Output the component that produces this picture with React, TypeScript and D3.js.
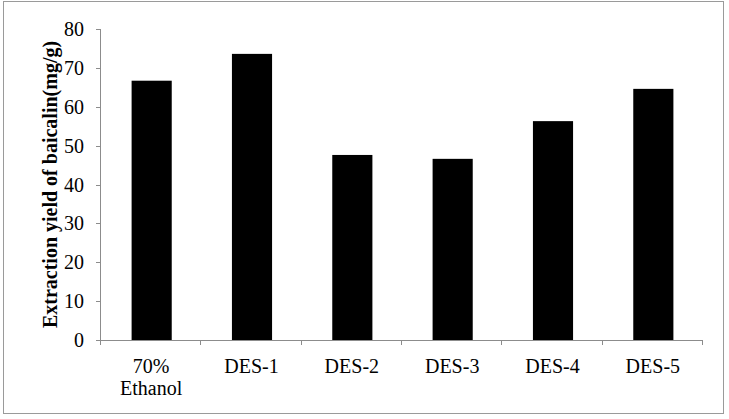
import React from 'react';
import * as d3 from 'd3';

const categories = ['70%|Ethanol', 'DES-1', 'DES-2', 'DES-3', 'DES-4', 'DES-5'];
const values = [66.7, 73.6, 47.6, 46.6, 56.3, 64.6];
const yTicks = [0, 10, 20, 30, 40, 50, 60, 70, 80];

const W = 729;
const H = 419;
const margin = { top: 29, right: 27, bottom: 79, left: 100 };

export default function App() {
  const x = d3
    .scaleBand<string>()
    .domain(categories)
    .range([margin.left, W - margin.right])
    .paddingInner(0.6)
    .paddingOuter(0.3);

  const y = d3.scaleLinear().domain([0, 80]).range([H - margin.bottom, margin.top]);

  const axisColor = '#8c8c8c';
  const font = '"Liberation Serif", "Times New Roman", serif';
  const step = x.step();
  const x0 = margin.left;
  const x1 = W - margin.right;
  const y0 = y(0);

  return (
    <svg
      width={W}
      height={H}
      style={{ position: 'absolute', left: 0, top: 0, background: '#fff' }}
      fontFamily={font}
    >
      <rect x={3.5} y={1.5} width={720} height={412} fill="#fff" stroke="#9a9a9a" strokeWidth={1} />

      {/* bars */}
      {categories.map((c, i) => (
        <rect
          key={c}
          x={(x(c) ?? 0) + 1.5}
          y={y(values[i])}
          width={x.bandwidth()}
          height={y0 - y(values[i])}
          fill="#000"
        />
      ))}

      {/* y axis */}
      <line x1={x0 + 0.5} x2={x0 + 0.5} y1={y(80)} y2={y0} stroke={axisColor} />
      {yTicks.map((t) => (
        <g key={t}>
          <line x1={x0 - 4} x2={x0} y1={Math.round(y(t)) + 0.5} y2={Math.round(y(t)) + 0.5} stroke={axisColor} />
          <text x={x0 - 16} y={y(t)} dy="0.35em" textAnchor="end" fontSize={20} fill="#000">
            {t}
          </text>
        </g>
      ))}

      {/* x axis */}
      <line x1={x0} x2={x1} y1={Math.round(y0) + 0.5} y2={Math.round(y0) + 0.5} stroke={axisColor} />
      {d3.range(categories.length + 1).map((i) => (
        <line
          key={i}
          x1={Math.round(x0 + i * step) + 0.5}
          x2={Math.round(x0 + i * step) + 0.5}
          y1={y0}
          y2={y0 + 5}
          stroke={axisColor}
        />
      ))}
      {categories.map((c) => {
        const lines = c.split('|');
        const cx = (x(c) ?? 0) + x.bandwidth() / 2 + 1;
        return (
          <text key={c} x={cx} textAnchor="middle" fontSize={20} fill="#000">
            {lines.map((l, j) => (
              <tspan key={j} x={cx} y={y0 + 33 + j * 22}>
                {l}
              </tspan>
            ))}
          </text>
        );
      })}

      {/* y title */}
      <text
        transform={`translate(57,${(y(80) + y0) / 2}) rotate(-90)`}
        textAnchor="middle"
        fontSize={20}
        fontWeight="bold"
        fill="#000"
      >
        Extraction yield of baicalin(mg/g)
      </text>
    </svg>
  );
}
